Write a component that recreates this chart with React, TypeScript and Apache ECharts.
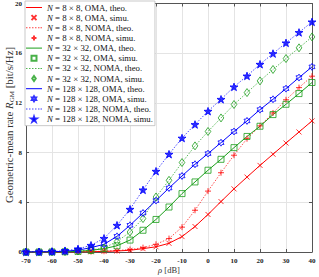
import React, { useEffect, useRef } from "react";
import * as echarts from "echarts";

const xs = [-70, -65, -60, -55, -50, -45, -40, -35, -30, -25, -20, -15, -10, -5, 0, 5, 10, 15, 20, 25, 30, 35, 40];
const r8Oma = [0, 0, 0, 0, 0.01, 0.02, 0.05, 0.08, 0.14, 0.27, 0.42, 0.7, 1.24, 2.05, 3.02, 4.06, 5.08, 6.03, 6.97, 7.87, 8.77, 9.66, 10.55];
const r8Noma = [0, 0, 0, 0, 0.01, 0.03, 0.06, 0.12, 0.2, 0.35, 0.62, 1.08, 2.0, 3.36, 4.9, 6.38, 7.79, 9.12, 10.15, 11.19, 12.25, 13.23, 14.15];
const g32Oma = [0, 0, 0.01, 0.02, 0.05, 0.13, 0.27, 0.5, 0.96, 1.75, 2.62, 3.62, 4.7, 5.64, 6.58, 7.46, 8.4, 9.3, 10.12, 11.06, 11.89, 12.75, 13.64];
const g32Noma = [0, 0, 0.01, 0.03, 0.08, 0.16, 0.32, 0.84, 1.61, 2.69, 4.43, 5.77, 7.2, 8.54, 9.7, 10.79, 11.87, 12.83, 13.77, 14.69, 15.57, 16.43, 17.31];
const b128Oma = [0, 0.01, 0.02, 0.06, 0.15, 0.35, 0.62, 1.26, 2.15, 3.14, 4.14, 5.15, 6.12, 7.06, 7.92, 8.8, 9.7, 10.55, 11.46, 12.29, 13.15, 14.04, 14.9];
const b128Noma = [0, 0.01, 0.04, 0.1, 0.25, 0.54, 1.1, 2.15, 3.44, 5.0, 6.5, 7.87, 9.17, 10.26, 11.33, 12.29, 13.29, 14.17, 15.11, 15.97, 16.83, 17.67, 18.52];

const sizes = ["8 × 8", "32 × 32", "128 × 128"];
const colors = ["#ff0000", "#1a9e1a", "#0000ff"];

const CROSS = "path://M0,0L10,10M10,0L0,10";
const PLUS = "path://M5,0L5,10M0,5L10,5";
const SQUARE = "path://M0,0L10,0L10,10L0,10Z";
const DIAMOND = "path://M0,-10L7,0L0,10L-7,0Z";
const HEXA = "path://M0,-10L2.887,-5L8.66,-5L5.774,0L8.66,5L2.887,5L0,10L-2.887,5L-8.66,5L-5.774,0L-8.66,-5L-2.887,-5Z";
const PENTA = "path://M0,-10L2.245,-3.09L9.51,-3.09L3.633,1.18L5.88,8.09L0,3.82L-5.88,8.09L-3.633,1.18L-9.51,-3.09L-2.245,-3.09Z";
const SOLID_ICON = "path://M0,0L16,0L16,1L0,1Z";
const DOT_ICON = "path://M0,0h1.5v1h-1.5ZM3,0h1.5v1h-1.5ZM6,0h1.5v1h-1.5ZM9,0h1.5v1h-1.5ZM12,0h1.5v1h-1.5ZM14.5,0h1.5v1h-1.5Z";

const SERIF = "'Liberation Serif', 'DejaVu Serif', serif";

export default function App() {
  const ref = useRef<HTMLDivElement>(null);
  useEffect(() => {
    if (!ref.current) return;
    const chart = echarts.init(ref.current, null, { renderer: "svg" });
    const pair = (ys: number[]) => xs.map((x, i) => [x, ys[i]]);
    const groups = [
      { oma: r8Oma, noma: r8Noma, omaSym: CROSS, nomaSym: PLUS, omaSize: 5, nomaSize: 6, omaFill: "transparent", nomaFill: "transparent" },
      { oma: g32Oma, noma: g32Noma, omaSym: SQUARE, nomaSym: DIAMOND, omaSize: 6, nomaSize: 8, omaFill: "transparent", nomaFill: "transparent" },
      { oma: b128Oma, noma: b128Noma, omaSym: HEXA, nomaSym: PENTA, omaSize: 7, nomaSize: 8, omaFill: "transparent", nomaFill: "#0000ff" },
    ];
    const series: any[] = [];
    const legendData: any[] = [];
    groups.forEach((g, k) => {
      const c = colors[k];
      const base = "N = " + sizes[k];
      const n1 = base + ", OMA, theo.";
      const n2 = base + ", OMA, simu.";
      const n3 = base + ", NOMA, theo.";
      const n4 = base + ", NOMA, simu.";
      series.push({
        name: n1, type: "line", data: pair(g.oma), symbol: "none", showSymbol: false,
        lineStyle: { color: c, width: 1 }, itemStyle: { color: c }, z: 2,
      });
      series.push({
        name: n2, type: "scatter", data: pair(g.oma), symbol: g.omaSym,
        symbolSize: g.omaSize, symbolKeepAspect: true,
        itemStyle: { color: g.omaFill, borderColor: c, borderWidth: 1 }, z: 3,
      });
      series.push({
        name: n3, type: "line", data: pair(g.noma), symbol: "none", showSymbol: false,
        lineStyle: { color: c, width: 1, type: [1.5, 1.5], opacity: 0.7 }, itemStyle: { color: c }, z: 2,
      });
      series.push({
        name: n4, type: "scatter", data: pair(g.noma), symbol: g.nomaSym,
        symbolSize: g.nomaSize, symbolKeepAspect: true,
        itemStyle: { color: g.nomaFill, borderColor: c, borderWidth: 1 }, z: 3,
      });
      legendData.push(
        { name: n1, icon: SOLID_ICON, itemStyle: { color: c, borderWidth: 0, opacity: 1 } },
        { name: n2 },
        { name: n3, icon: DOT_ICON, itemStyle: { color: c, borderWidth: 0, opacity: 0.75 } },
        { name: n4 },
      );
    });

    const axisColor = "#555";
    chart.setOption({
      animation: false,
      grid: { left: 26, right: 7, top: 3, bottom: 25, show: false },
      legend: {
        data: legendData,
        orient: "vertical", left: 25, top: 1, itemWidth: 16, itemHeight: 5, itemGap: 1.15,
        padding: [2, 2, 2, 1], backgroundColor: "#fff", borderColor: "#bbb", borderWidth: 0.8,
        symbolKeepAspect: true,
        textStyle: {
          fontFamily: SERIF, fontSize: 8.8, lineHeight: 8.5, color: "#111",
          rich: { i: { fontFamily: SERIF, fontSize: 8.8, lineHeight: 8.5, fontStyle: "italic", color: "#111" } },
        },
        formatter: (n: string) => n.replace(/^N/, "{i|N}"),
      },
      xAxis: [
        {
          type: "value", min: -70, max: 40, interval: 10,
          axisLine: { show: true, onZero: false, lineStyle: { color: axisColor, width: 1 } },
          axisTick: { inside: true, length: 3, lineStyle: { color: axisColor } },
          axisLabel: { fontFamily: SERIF, fontSize: 7, fontWeight: "bold", color: "#222", margin: 5 },
          splitLine: { lineStyle: { color: "#e4e4e4", width: 1 } },
        },
        {
          type: "value", min: -70, max: 40, interval: 10, position: "top",
          axisLine: { show: true, onZero: false, lineStyle: { color: axisColor, width: 1 } },
          axisTick: { inside: true, length: 3, lineStyle: { color: axisColor } },
          axisLabel: { show: false }, splitLine: { show: false },
        },
      ],
      yAxis: [
        {
          type: "value", min: 0, max: 20, interval: 4,
          axisLine: { show: true, onZero: false, lineStyle: { color: axisColor, width: 1 } },
          axisTick: { inside: true, length: 3, lineStyle: { color: axisColor } },
          axisLabel: { fontFamily: SERIF, fontSize: 7, fontWeight: "bold", color: "#222", margin: 4 },
          splitLine: { lineStyle: { color: "#e4e4e4", width: 1 } },
        },
        {
          type: "value", min: 0, max: 20, interval: 4, position: "right",
          axisLine: { show: true, onZero: false, lineStyle: { color: axisColor, width: 1 } },
          axisTick: { inside: true, length: 3, lineStyle: { color: axisColor } },
          axisLabel: { show: false }, splitLine: { show: false },
        },
      ],
      graphic: [
        {
          type: "text", x: 9, y: 125, rotation: Math.PI / 2,
          style: {
            text: "Geometric-mean rate {i|R}{s|GM} [bit/s/Hz]",
            fontFamily: SERIF, fontSize: 10.8, fill: "#333", align: "center", verticalAlign: "middle",
            rich: {
              i: { fontFamily: SERIF, fontSize: 10.8, fontStyle: "italic", fill: "#333" },
              s: { fontFamily: SERIF, fontSize: 7, fill: "#333", padding: [6, 0, 0, 0] },
            },
          },
        },
        {
          type: "text", x: 169, y: 270,
          style: {
            text: "{i|ρ} [dB]",
            fontFamily: SERIF, fontSize: 8.5, fill: "#333", align: "center", verticalAlign: "middle",
            rich: { i: { fontFamily: SERIF, fontSize: 8.5, fontStyle: "italic", fill: "#333" } },
          },
        },
      ],
      series,
    });
    return () => chart.dispose();
  }, []);
  return <div ref={ref} style={{ width: 319, height: 277, position: "absolute", left: 0, top: 0 }} />;
}
